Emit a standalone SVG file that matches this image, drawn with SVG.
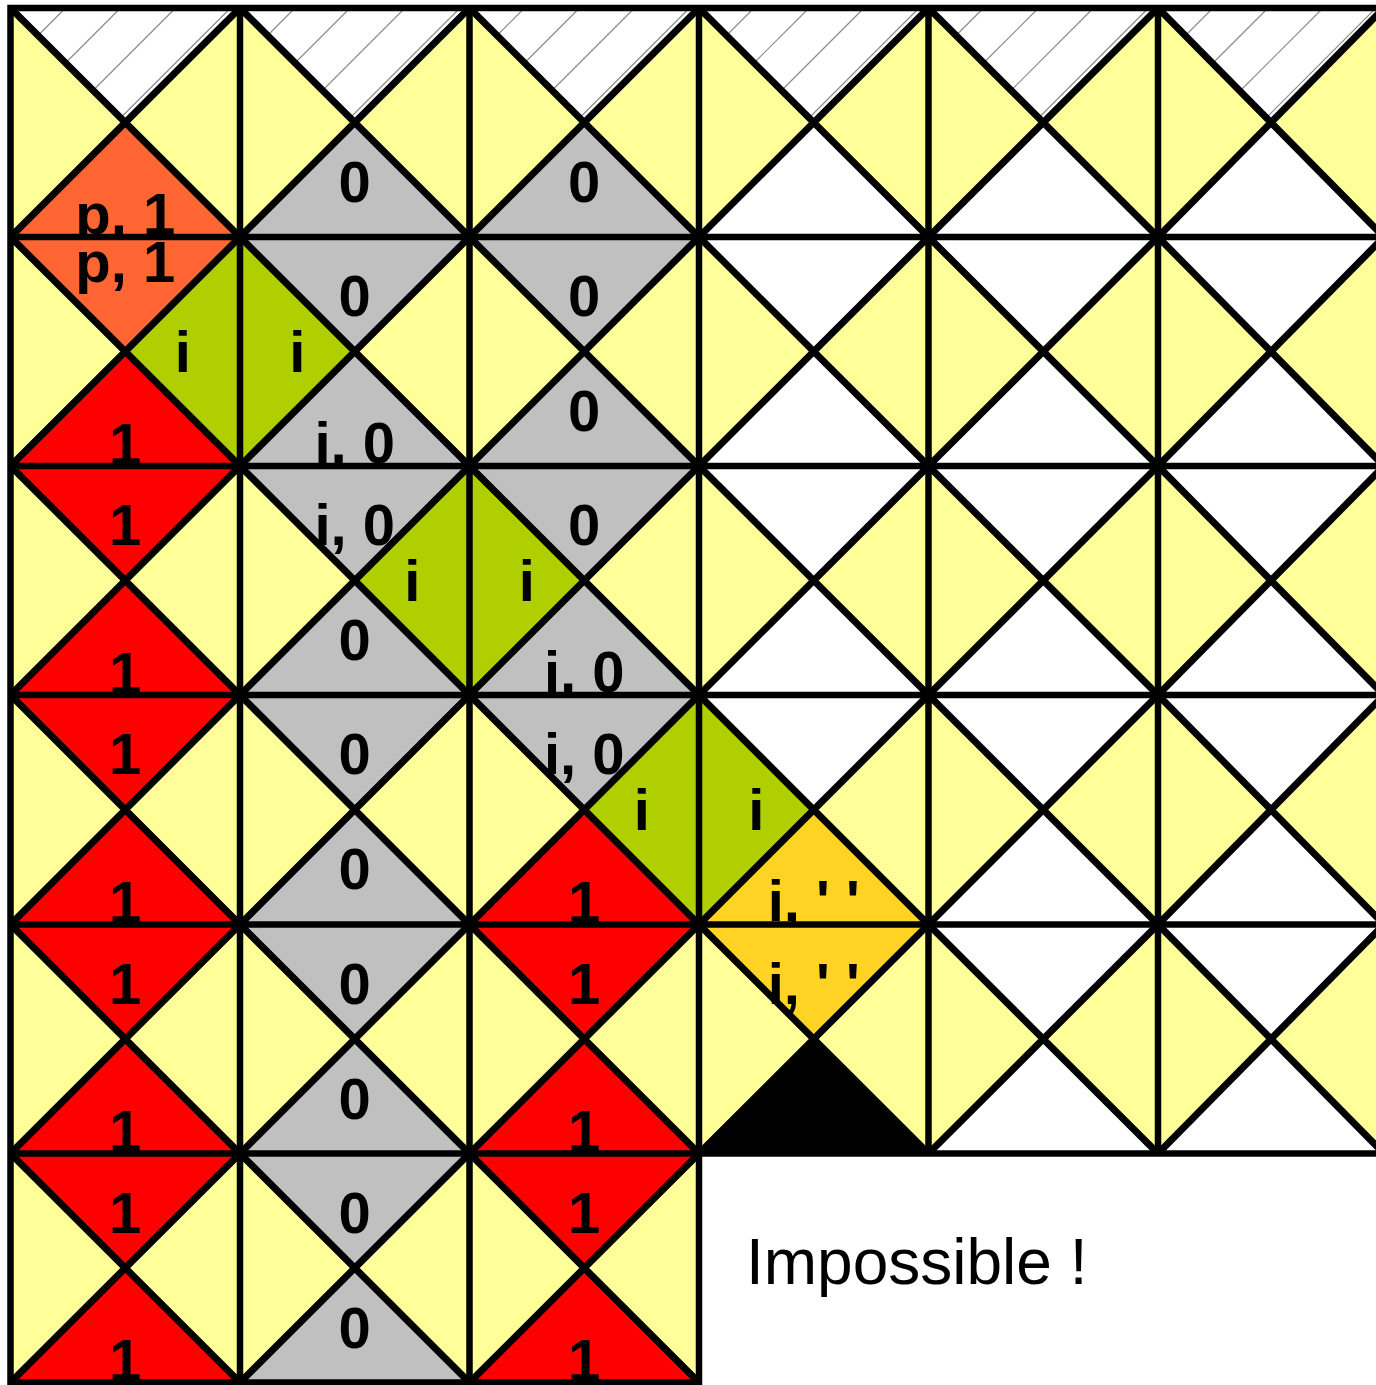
<svg xmlns="http://www.w3.org/2000/svg" width="1376" height="1385" viewBox="0 0 1376 1385">
<style>
.y{fill:#FFFF99}.g{fill:#C0C0C0}.r{fill:#FF0000}.o{fill:#FF6633}.v{fill:#AFCF00}.a{fill:#FFD324}.w{fill:#FFFFFF}.k{fill:#000000}
.hl{stroke:#8c8c8c;stroke-width:1.2;fill:none}
.t{font-family:"Liberation Sans",Arial,sans-serif;font-weight:bold;font-size:58px;text-anchor:middle;fill:#000}
.n{font-family:"Liberation Sans",Arial,sans-serif;font-size:64px;fill:#000}
.ln{stroke:#000;stroke-width:6.5;fill:none;stroke-linecap:square}
.dg{stroke:#000;stroke-width:7;fill:none;stroke-linecap:butt}
</style>
<rect width="1376" height="1385" fill="#fff"/>

<!-- Row 0 -->
<g id="c0-0"><rect x="10.5" y="8" width="229.5" height="229" class="y"/><polygon points="10.5,8 240,8 125.25,122.5" class="w"/><path class="hl" d="M65.5,8L38,35.5M120.5,8L65.5,63M175.5,8L93,90.5M230.5,8L120.5,118"/><polygon points="10.5,237 240,237 125.25,122.5" class="o"/><text x="125.25" y="234" class="t">p, 1</text></g>
<g id="c0-1"><rect x="240" y="8" width="229.5" height="229" class="y"/><polygon points="240,8 469.5,8 354.75,122.5" class="w"/><path class="hl" d="M295,8L267.5,35.5M350,8L295,63M405,8L322.5,90.5M460,8L350,118"/><polygon points="240,237 469.5,237 354.75,122.5" class="g"/><text x="354.75" y="202" class="t">0</text></g>
<g id="c0-2"><rect x="469.5" y="8" width="229.5" height="229" class="y"/><polygon points="469.5,8 699,8 584.25,122.5" class="w"/><path class="hl" d="M524.5,8L497,35.5M579.5,8L524.5,63M634.5,8L552,90.5M689.5,8L579.5,118"/><polygon points="469.5,237 699,237 584.25,122.5" class="g"/><text x="584.25" y="202" class="t">0</text></g>
<g id="c0-3"><rect x="699" y="8" width="229.5" height="229" class="y"/><polygon points="699,8 928.5,8 813.75,122.5" class="w"/><path class="hl" d="M754,8L726.5,35.5M809,8L754,63M864,8L781.5,90.5M919,8L809,118"/><polygon points="699,237 928.5,237 813.75,122.5" class="w"/></g>
<g id="c0-4"><rect x="928.5" y="8" width="229.5" height="229" class="y"/><polygon points="928.5,8 1158,8 1043.25,122.5" class="w"/><path class="hl" d="M983.5,8L956,35.5M1038.5,8L983.5,63M1093.5,8L1011,90.5M1148.5,8L1038.5,118"/><polygon points="928.5,237 1158,237 1043.25,122.5" class="w"/></g>
<g id="c0-5"><rect x="1158" y="8" width="226" height="229" class="y"/><polygon points="1158,8 1384,8 1271,122.5" class="w"/><path class="hl" d="M1213,8L1185.5,35.5M1268,8L1213,63M1323,8L1240.5,90.5M1376,8L1267,117"/><polygon points="1158,237 1384,237 1271,122.5" class="w"/></g>

<!-- Row 1 -->
<g id="c1-0"><rect x="10.5" y="237" width="229.5" height="229" class="y"/><polygon points="10.5,237 240,237 125.25,351.5" class="o"/><polygon points="240,237 240,466 125.25,351.5" class="v"/><polygon points="10.5,466 240,466 125.25,351.5" class="r"/><text x="125.25" y="282" class="t">p, 1</text><text x="182.75" y="372" class="t">i</text><text x="125.25" y="464" class="t">1</text></g>
<g id="c1-1"><rect x="240" y="237" width="229.5" height="229" class="y"/><polygon points="240,237 469.5,237 354.75,351.5" class="g"/><polygon points="240,237 240,466 354.75,351.5" class="v"/><polygon points="240,466 469.5,466 354.75,351.5" class="g"/><text x="354.75" y="316" class="t">0</text><text x="297.25" y="372" class="t">i</text><text x="354.75" y="463" class="t">i, 0</text></g>
<g id="c1-2"><rect x="469.5" y="237" width="229.5" height="229" class="y"/><polygon points="469.5,237 699,237 584.25,351.5" class="g"/><polygon points="469.5,466 699,466 584.25,351.5" class="g"/><text x="584.25" y="316" class="t">0</text><text x="584.25" y="431" class="t">0</text></g>
<g id="c1-3"><rect x="699" y="237" width="229.5" height="229" class="y"/><polygon points="699,237 928.5,237 813.75,351.5" class="w"/><polygon points="699,466 928.5,466 813.75,351.5" class="w"/></g>
<g id="c1-4"><rect x="928.5" y="237" width="229.5" height="229" class="y"/><polygon points="928.5,237 1158,237 1043.25,351.5" class="w"/><polygon points="928.5,466 1158,466 1043.25,351.5" class="w"/></g>
<g id="c1-5"><rect x="1158" y="237" width="226" height="229" class="y"/><polygon points="1158,237 1384,237 1271,351.5" class="w"/><polygon points="1158,466 1384,466 1271,351.5" class="w"/></g>

<!-- Row 2 -->
<g id="c2-0"><rect x="10.5" y="466" width="229.5" height="229" class="y"/><polygon points="10.5,466 240,466 125.25,580.5" class="r"/><polygon points="10.5,695 240,695 125.25,580.5" class="r"/><text x="125.25" y="545" class="t">1</text><text x="125.25" y="693" class="t">1</text></g>
<g id="c2-1"><rect x="240" y="466" width="229.5" height="229" class="y"/><polygon points="240,466 469.5,466 354.75,580.5" class="g"/><polygon points="469.5,466 469.5,695 354.75,580.5" class="v"/><polygon points="240,695 469.5,695 354.75,580.5" class="g"/><text x="354.75" y="545" class="t">i, 0</text><text x="412.25" y="601" class="t">i</text><text x="354.75" y="660" class="t">0</text></g>
<g id="c2-2"><rect x="469.5" y="466" width="229.5" height="229" class="y"/><polygon points="469.5,466 699,466 584.25,580.5" class="g"/><polygon points="469.5,466 469.5,695 584.25,580.5" class="v"/><polygon points="469.5,695 699,695 584.25,580.5" class="g"/><text x="584.25" y="545" class="t">0</text><text x="526.75" y="601" class="t">i</text><text x="584.25" y="692" class="t">i, 0</text></g>
<g id="c2-3"><rect x="699" y="466" width="229.5" height="229" class="y"/><polygon points="699,466 928.5,466 813.75,580.5" class="w"/><polygon points="699,695 928.5,695 813.75,580.5" class="w"/></g>
<g id="c2-4"><rect x="928.5" y="466" width="229.5" height="229" class="y"/><polygon points="928.5,466 1158,466 1043.25,580.5" class="w"/><polygon points="928.5,695 1158,695 1043.25,580.5" class="w"/></g>
<g id="c2-5"><rect x="1158" y="466" width="226" height="229" class="y"/><polygon points="1158,466 1384,466 1271,580.5" class="w"/><polygon points="1158,695 1384,695 1271,580.5" class="w"/></g>

<!-- Row 3 -->
<g id="c3-0"><rect x="10.5" y="695" width="229.5" height="229.5" class="y"/><polygon points="10.5,695 240,695 125.25,809.75" class="r"/><polygon points="10.5,924.5 240,924.5 125.25,809.75" class="r"/><text x="125.25" y="774" class="t">1</text><text x="125.25" y="922" class="t">1</text></g>
<g id="c3-1"><rect x="240" y="695" width="229.5" height="229.5" class="y"/><polygon points="240,695 469.5,695 354.75,809.75" class="g"/><polygon points="240,924.5 469.5,924.5 354.75,809.75" class="g"/><text x="354.75" y="774" class="t">0</text><text x="354.75" y="889" class="t">0</text></g>
<g id="c3-2"><rect x="469.5" y="695" width="229.5" height="229.5" class="y"/><polygon points="469.5,695 699,695 584.25,809.75" class="g"/><polygon points="699,695 699,924.5 584.25,809.75" class="v"/><polygon points="469.5,924.5 699,924.5 584.25,809.75" class="r"/><text x="584.25" y="774" class="t">i, 0</text><text x="641.75" y="830" class="t">i</text><text x="584.25" y="922" class="t">1</text></g>
<g id="c3-3"><rect x="699" y="695" width="229.5" height="229.5" class="y"/><polygon points="699,695 928.5,695 813.75,809.75" class="w"/><polygon points="699,695 699,924.5 813.75,809.75" class="v"/><polygon points="699,924.5 928.5,924.5 813.75,809.75" class="a"/><text x="756.25" y="830" class="t">i</text><text x="813.75" y="921" class="t">i, ' '</text></g>
<g id="c3-4"><rect x="928.5" y="695" width="229.5" height="229.5" class="y"/><polygon points="928.5,695 1158,695 1043.25,809.75" class="w"/><polygon points="928.5,924.5 1158,924.5 1043.25,809.75" class="w"/></g>
<g id="c3-5"><rect x="1158" y="695" width="226" height="229.5" class="y"/><polygon points="1158,695 1384,695 1271,809.75" class="w"/><polygon points="1158,924.5 1384,924.5 1271,809.75" class="w"/></g>

<!-- Row 4 -->
<g id="c4-0"><rect x="10.5" y="924.5" width="229.5" height="229" class="y"/><polygon points="10.5,924.5 240,924.5 125.25,1039" class="r"/><polygon points="10.5,1153.5 240,1153.5 125.25,1039" class="r"/><text x="125.25" y="1003.5" class="t">1</text><text x="125.25" y="1151" class="t">1</text></g>
<g id="c4-1"><rect x="240" y="924.5" width="229.5" height="229" class="y"/><polygon points="240,924.5 469.5,924.5 354.75,1039" class="g"/><polygon points="240,1153.5 469.5,1153.5 354.75,1039" class="g"/><text x="354.75" y="1003.5" class="t">0</text><text x="354.75" y="1118.5" class="t">0</text></g>
<g id="c4-2"><rect x="469.5" y="924.5" width="229.5" height="229" class="y"/><polygon points="469.5,924.5 699,924.5 584.25,1039" class="r"/><polygon points="469.5,1153.5 699,1153.5 584.25,1039" class="r"/><text x="584.25" y="1003.5" class="t">1</text><text x="584.25" y="1151" class="t">1</text></g>
<g id="c4-3"><rect x="699" y="924.5" width="229.5" height="229" class="y"/><polygon points="699,924.5 928.5,924.5 813.75,1039" class="a"/><polygon points="699,1153.5 928.5,1153.5 813.75,1039" class="k"/><text x="813.75" y="1003.5" class="t">i, ' '</text></g>
<g id="c4-4"><rect x="928.5" y="924.5" width="229.5" height="229" class="y"/><polygon points="928.5,924.5 1158,924.5 1043.25,1039" class="w"/><polygon points="928.5,1153.5 1158,1153.5 1043.25,1039" class="w"/></g>
<g id="c4-5"><rect x="1158" y="924.5" width="226" height="229" class="y"/><polygon points="1158,924.5 1384,924.5 1271,1039" class="w"/><polygon points="1158,1153.5 1384,1153.5 1271,1039" class="w"/></g>

<!-- Row 5 -->
<g id="c5-0"><rect x="10.5" y="1153.5" width="229.5" height="229" class="y"/><polygon points="10.5,1153.5 240,1153.5 125.25,1268" class="r"/><polygon points="10.5,1382.5 240,1382.5 125.25,1268" class="r"/><text x="125.25" y="1232.5" class="t">1</text><text x="125.25" y="1380" class="t">1</text></g>
<g id="c5-1"><rect x="240" y="1153.5" width="229.5" height="229" class="y"/><polygon points="240,1153.5 469.5,1153.5 354.75,1268" class="g"/><polygon points="240,1382.5 469.5,1382.5 354.75,1268" class="g"/><text x="354.75" y="1232.5" class="t">0</text><text x="354.75" y="1347.5" class="t">0</text></g>
<g id="c5-2"><rect x="469.5" y="1153.5" width="229.5" height="229" class="y"/><polygon points="469.5,1153.5 699,1153.5 584.25,1268" class="r"/><polygon points="469.5,1382.5 699,1382.5 584.25,1268" class="r"/><text x="584.25" y="1232.5" class="t">1</text><text x="584.25" y="1380" class="t">1</text></g>

<g id="connectors">
<path class="dg" d="M10.5,8L240,237M240,8L469.5,237M469.5,8L699,237M699,8L928.5,237M928.5,8L1158,237M1158,8L1384,237
M10.5,237L240,8M240,237L469.5,8M469.5,237L699,8M699,237L928.5,8M928.5,237L1158,8M1158,237L1384,8
M10.5,237L240,466M240,237L469.5,466M469.5,237L699,466M699,237L928.5,466M928.5,237L1158,466M1158,237L1384,466
M10.5,466L240,237M240,466L469.5,237M469.5,466L699,237M699,466L928.5,237M928.5,466L1158,237M1158,466L1384,237
M10.5,466L240,695M240,466L469.5,695M469.5,466L699,695M699,466L928.5,695M928.5,466L1158,695M1158,466L1384,695
M10.5,695L240,466M240,695L469.5,466M469.5,695L699,466M699,695L928.5,466M928.5,695L1158,466M1158,695L1384,466
M10.5,695L240,924.5M240,695L469.5,924.5M469.5,695L699,924.5M699,695L928.5,924.5M928.5,695L1158,924.5M1158,695L1384,924.5
M10.5,924.5L240,695M240,924.5L469.5,695M469.5,924.5L699,695M699,924.5L928.5,695M928.5,924.5L1158,695M1158,924.5L1384,695
M10.5,924.5L240,1153.5M240,924.5L469.5,1153.5M469.5,924.5L699,1153.5M699,924.5L928.5,1153.5M928.5,924.5L1158,1153.5M1158,924.5L1384,1153.5
M10.5,1153.5L240,924.5M240,1153.5L469.5,924.5M469.5,1153.5L699,924.5M699,1153.5L928.5,924.5M928.5,1153.5L1158,924.5M1158,1153.5L1384,924.5
M10.5,1153.5L240,1382.5M240,1153.5L469.5,1382.5M469.5,1153.5L699,1382.5
M10.5,1382.5L240,1153.5M240,1382.5L469.5,1153.5M469.5,1382.5L699,1153.5"/>
<path class="ln" d="M10.5,8H1384M10.5,237H1384M10.5,466H1384M10.5,695H1384M10.5,924.5H1384M10.5,1153.5H1384M10.5,1382.5H699
M10.5,8V1382.5M240,8V1382.5M469.5,8V1382.5M699,8V1382.5M928.5,8V1153.5M1158,8V1153.5M1384,8V1153.5"/>
</g>

<g id="note"><text x="746" y="1284" class="n">Impossible !</text></g>
</svg>
